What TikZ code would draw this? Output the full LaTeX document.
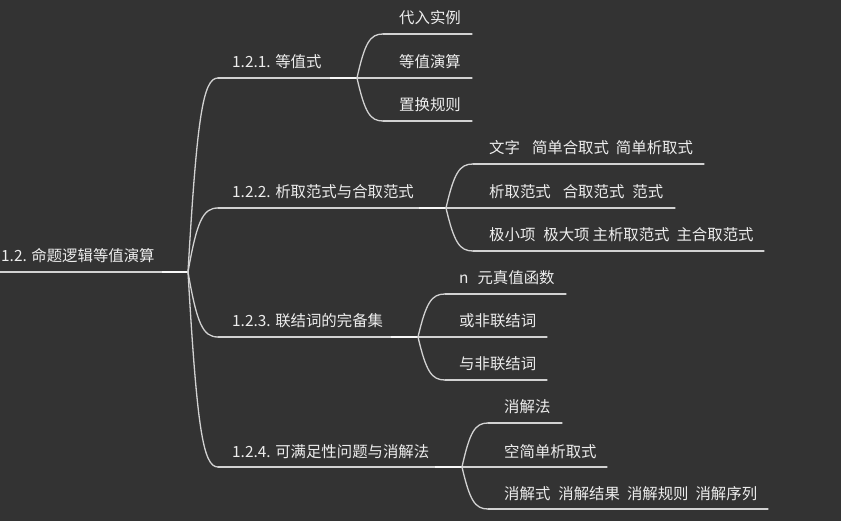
\documentclass[tikz,border=0pt]{standalone}
\usepackage{fontspec}
\setmainfont{Noto Sans CJK SC}
\usetikzlibrary{calc}
\definecolor{bg}{HTML}{333333}
\definecolor{ln}{HTML}{D2D2D2}
\definecolor{tx}{HTML}{EDEDED}
\tikzset{
 lbl/.style={anchor=base west, inner sep=0pt, text=tx, font=\fontsize{15.4}{18}\selectfont},
 link/.style={draw=ln, line width=1.3pt, line cap=round},
 hot/.style={draw=white!85!ln, line width=1.9pt},
}
\newcommand\mmlink[2]{\draw[link] let \p1=(#1), \p2=(#2) in (#1) .. controls ({\x1+0.3*(\x2-\x1)},{\y1+0.8*(\y2-\y1)}) and ({\x1+0.5*(\x2-\x1)},\y2) .. (#2);}
\newcommand\mmleaf[7]{%
 \coordinate (#2S) at (#3,#4); \coordinate (#2E) at (#5,#4);
 \node[lbl] (#2) at (#6,#4-10) {#7};
 \mmlink{#1}{#2S}
 \draw[link] (#2S) -- (#2E);}
\newcommand\mmmid[6]{%
 \coordinate (#2S) at (218,#3); \coordinate (#1) at (#4,#3);
 \node[lbl] (#2) at (232,#3-10) {#5};
 \mmlink{R}{#2S}
 \draw[link] (#2S) -- (#1);
 \draw[hot] ($(#1)+(-27,0)$) -- (#1);}
\begin{document}
\begin{tikzpicture}[x=1pt,y=-1pt]
\fill[bg] (0,0) rectangle (841,521);
\useasboundingbox (0,0) rectangle (841,521);
% root
\coordinate (r0) at (0,272);
\coordinate (R) at (188,272);
\node[lbl] (root) at (1,262) {1.2. 命题逻辑等值演算};
\draw[link] (r0) -- (R);
\draw[hot] ($(R)+(-26,0)$) -- (R);
% level 1
\mmmid{A}{a}{78}{357}{1.2.1. 等值式}{}
\mmmid{B}{b}{208}{446}{1.2.2. 析取范式与合取范式}{}
\mmmid{C}{c}{337}{418}{1.2.3. 联结词的完备集}{}
\mmmid{D}{d}{467}{462}{1.2.4. 可满足性问题与消解法}{}
% level 2
\mmleaf{A}{a1}{383}{34}{472}{399}{代入实例}
\mmleaf{A}{a2}{357}{78}{472}{399}{等值演算}
\mmleaf{A}{a3}{383}{121}{472}{399}{置换规则}
\mmleaf{B}{b1}{473}{164}{704}{489}{文字\hspace{12pt}简单合取式\hspace{7pt}简单析取式}
\mmleaf{B}{b2}{446}{208}{675}{489}{析取范式\hspace{12pt}合取范式\hspace{8pt}范式}
\mmleaf{B}{b3}{473}{251}{764}{489}{极小项\hspace{8pt}极大项\hspace{3pt}主析取范式\hspace{7pt}主合取范式}
\mmleaf{C}{c1}{445}{294}{566}{459}{n\hspace{9pt}元真值函数}
\mmleaf{C}{c2}{418}{337}{547}{459}{或非联结词}
\mmleaf{C}{c3}{445}{380}{547}{459}{与非联结词}
\mmleaf{D}{d1}{488}{423}{562}{504}{消解法}
\mmleaf{D}{d2}{462}{467}{607}{504}{空简单析取式}
\mmleaf{D}{d3}{488}{509}{768}{504}{消解式\hspace{8pt}消解结果\hspace{7pt}消解规则\hspace{7pt}消解序列}
\end{tikzpicture}
\end{document}
